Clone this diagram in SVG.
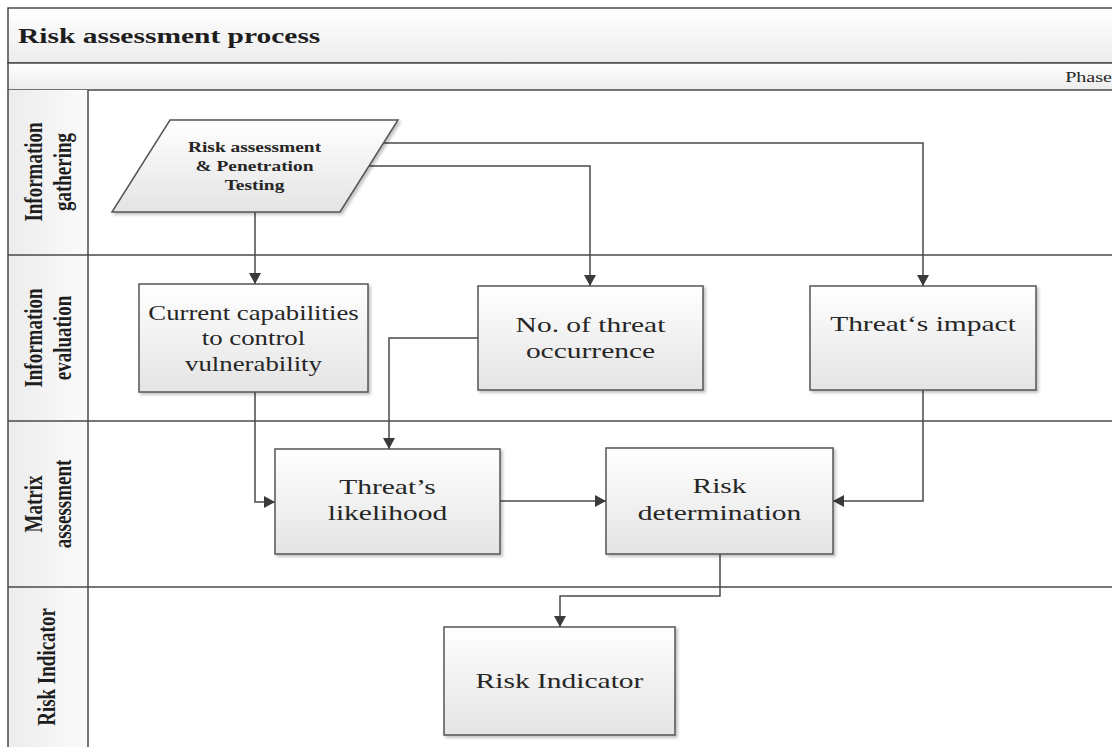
<svg xmlns="http://www.w3.org/2000/svg" width="1112" height="747" viewBox="0 0 1112 747">
  <defs>
    <linearGradient id="nodeFill" x1="0" y1="0" x2="0" y2="1">
      <stop offset="0" stop-color="#ffffff"/>
      <stop offset="1" stop-color="#e4e4e4"/>
    </linearGradient>
    <linearGradient id="barFill" x1="0" y1="0" x2="0" y2="1">
      <stop offset="0" stop-color="#ffffff"/>
      <stop offset="1" stop-color="#ececec"/>
    </linearGradient>
    <linearGradient id="laneHeadFill" x1="0" y1="0" x2="1" y2="0">
      <stop offset="0" stop-color="#ececec"/>
      <stop offset="1" stop-color="#fbfbfb"/>
    </linearGradient>
    <filter id="shadow" x="-10%" y="-10%" width="125%" height="125%">
      <feDropShadow dx="2" dy="2" stdDeviation="1.5" flood-color="#000" flood-opacity="0.25"/>
    </filter>
    <marker id="arrow" markerUnits="userSpaceOnUse" markerWidth="12" markerHeight="12" refX="11" refY="6" orient="auto">
      <path d="M0,0 L11,6 L0,12 z" fill="#3a3a3a"/>
    </marker>
  </defs>
  <style>
    .frame { stroke: #4a4a4a; stroke-width: 1.5; }
    .lane { fill: none; stroke: #4a4a4a; stroke-width: 1.5; }
    .node { fill: url(#nodeFill); stroke: #555; stroke-width: 1.5; filter: url(#shadow); }
    .conn { fill: none; stroke: #4a4a4a; stroke-width: 1.5; marker-end: url(#arrow); }
    .lbl { font-family: "Liberation Serif", "Times New Roman", serif; font-size: 22px; fill: #262626; text-anchor: middle; }
    .lbl-s { font-size: 20px; }
    .lbl-b { font-family: "Liberation Serif", "Times New Roman", serif; font-size: 14.5px; font-weight: bold; fill: #262626; text-anchor: middle; }
    .lane-t { font-family: "Liberation Serif", "Times New Roman", serif; font-size: 19px; font-weight: bold; fill: #1e1e1e; text-anchor: middle; }
    .title { font-family: "Liberation Serif", "Times New Roman", serif; font-size: 22px; font-weight: bold; fill: #1e1e1e; }
    .phase { font-family: "Liberation Serif", "Times New Roman", serif; font-size: 15px; fill: #262626; text-anchor: end; }
  </style>

  <rect width="1112" height="747" fill="#ffffff"/>

  <!-- pool frame: title bar, phase bar and lane headers -->
  <g id="pool">
    <rect class="frame" x="8" y="8" width="1120" height="55" fill="url(#barFill)"/>
    <rect class="frame" x="8" y="63" width="1120" height="27" fill="url(#barFill)"/>
    <rect x="8" y="90" width="80" height="670" fill="url(#laneHeadFill)"/>
    <line class="lane" x1="8" y1="90" x2="8" y2="760"/>
    <line class="lane" x1="88" y1="90" x2="88" y2="760"/>
    <line class="lane" x1="8" y1="255" x2="1120" y2="255"/>
    <line class="lane" x1="8" y1="421" x2="1120" y2="421"/>
    <line class="lane" x1="8" y1="587" x2="1120" y2="587"/>
    <text class="title" transform="matrix(1.34 0 0 1 18 43)">Risk assessment process</text>
    <text class="phase" transform="matrix(1.34 0 0 1 1112 82)">Phase</text>
  </g>

  <!-- lane headers (rotated) -->
  <g id="lane-gathering">
    <text class="lane-t" transform="matrix(0 -1 1.34 0 42 172)">Information</text>
    <text class="lane-t" transform="matrix(0 -1 1.34 0 71 172)">gathering</text>
  </g>
  <g id="lane-evaluation">
    <text class="lane-t" transform="matrix(0 -1 1.34 0 42 338)">Information</text>
    <text class="lane-t" transform="matrix(0 -1 1.34 0 71 338)">evaluation</text>
  </g>
  <g id="lane-matrix">
    <text class="lane-t" transform="matrix(0 -1 1.34 0 42 504)">Matrix</text>
    <text class="lane-t" transform="matrix(0 -1 1.34 0 71 504)">assessment</text>
  </g>
  <g id="lane-indicator">
    <text class="lane-t" transform="matrix(0 -1 1.34 0 55 667)">Risk Indicator</text>
  </g>

  <!-- connectors -->
  <g id="connectors">
    <path class="conn" d="M255,212 V284"/>
    <path class="conn" d="M369,166 H590 V286"/>
    <path class="conn" d="M384,143 H923 V286"/>
    <path class="conn" d="M478,338 H389 V449"/>
    <path class="conn" d="M255,392 V502 H275"/>
    <path class="conn" d="M500,501 H606"/>
    <path class="conn" d="M923,390 V501 H833"/>
    <path class="conn" d="M720,554 V596 H560 V627"/>
  </g>

  <!-- nodes -->
  <g id="input-pentest">
    <polygon class="node" points="170,120 398,120 340,212 112,212"/>
    <text class="lbl-b" transform="matrix(1.34 0 0 1 254.5 152)">Risk assessment</text>
    <text class="lbl-b" transform="matrix(1.34 0 0 1 254.5 171)">&amp; Penetration</text>
    <text class="lbl-b" transform="matrix(1.34 0 0 1 254.5 189.5)">Testing</text>
  </g>

  <g id="capabilities">
    <rect class="node" x="139" y="284" width="229" height="108"/>
    <text class="lbl lbl-s" transform="matrix(1.34 0 0 1 253.5 319.5)">Current capabilities</text>
    <text class="lbl lbl-s" transform="matrix(1.34 0 0 1 253.5 345)">to control</text>
    <text class="lbl lbl-s" transform="matrix(1.34 0 0 1 253.5 370.5)">vulnerability</text>
  </g>

  <g id="occurrence">
    <rect class="node" x="478" y="286" width="225" height="104"/>
    <text class="lbl" transform="matrix(1.34 0 0 1 590.5 332)">No. of threat</text>
    <text class="lbl" transform="matrix(1.34 0 0 1 590.5 358)">occurrence</text>
  </g>

  <g id="impact">
    <rect class="node" x="810" y="286" width="226" height="104"/>
    <text class="lbl" transform="matrix(1.34 0 0 1 923 331)">Threat‘s impact</text>
  </g>

  <g id="likelihood">
    <rect class="node" x="275" y="449" width="225" height="105"/>
    <text class="lbl" transform="matrix(1.34 0 0 1 387.5 494)">Threat’s</text>
    <text class="lbl" transform="matrix(1.34 0 0 1 387.5 520)">likelihood</text>
  </g>

  <g id="determination">
    <rect class="node" x="606" y="448" width="227" height="106"/>
    <text class="lbl" transform="matrix(1.34 0 0 1 719.5 493)">Risk</text>
    <text class="lbl" transform="matrix(1.34 0 0 1 719.5 520)">determination</text>
  </g>

  <g id="indicator">
    <rect class="node" x="444" y="627" width="231" height="108"/>
    <text class="lbl" transform="matrix(1.34 0 0 1 559.5 688)">Risk Indicator</text>
  </g>
</svg>
